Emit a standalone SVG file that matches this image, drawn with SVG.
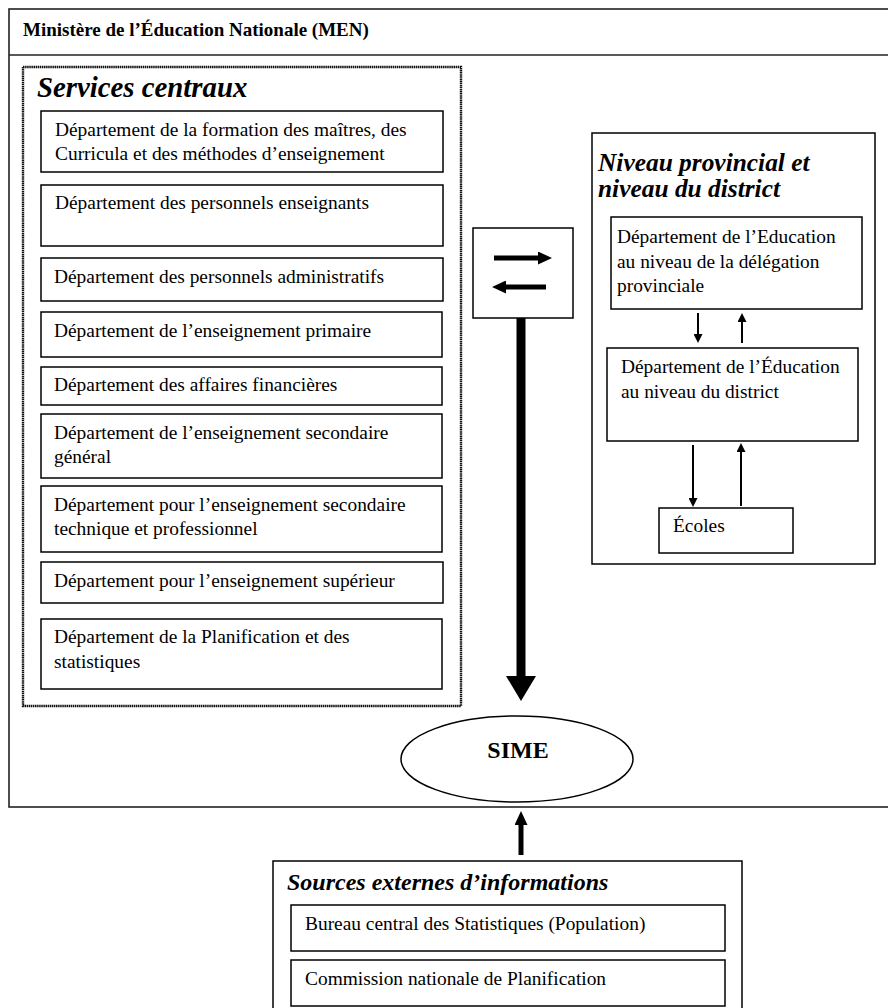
<svg xmlns="http://www.w3.org/2000/svg" width="888" height="1008" viewBox="0 0 888 1008">
<style>
text{font-family:"Liberation Serif","Times New Roman",serif;fill:#000}
.t{font-size:19.4px}
.hb{font-weight:bold}
.bi{font-weight:bold;font-style:italic}
.box{fill:#fff;stroke:#000;stroke-width:1.5}
.frame{fill:none;stroke:#222;stroke-width:1.6}
.dot{fill:none;stroke:#111;stroke-width:2.4;stroke-dasharray:1.5 0.6}
.c{stroke:#000;fill:none}
</style>
<defs>
<marker id="ms" viewBox="0 0 9 9" markerWidth="9" markerHeight="9" refX="0" refY="4.5" orient="auto" markerUnits="userSpaceOnUse"><path d="M0,0 L9,4.5 L0,9 z" fill="#000"/></marker>
<marker id="mm" viewBox="0 0 14 13" markerWidth="14" markerHeight="13" refX="0" refY="6.5" orient="auto" markerUnits="userSpaceOnUse"><path d="M0,0 L14,6.5 L0,13 z" fill="#000"/></marker>
<marker id="mb" viewBox="0 0 25 30" markerWidth="25" markerHeight="30" refX="0" refY="15" orient="auto" markerUnits="userSpaceOnUse"><path d="M0,0 L25,15 L0,30 z" fill="#000"/></marker>
</defs>
<rect width="888" height="1008" fill="#fff"/>

<g id="men">
<rect class="frame" x="9" y="9" width="890" height="798"/>
<line x1="9" y1="55" x2="888" y2="55" stroke="#222" stroke-width="1.6"/>
<text class="hb" x="23" y="36" font-size="19px">Ministère de l’Éducation Nationale (MEN)</text>
</g>

<g id="services-centraux">
<rect class="dot" x="23" y="67" width="438" height="639"/>
<text class="bi" x="37" y="97" font-size="28.8px">Services centraux</text>
</g>
<g id="dep-formation"><rect class="box" x="41" y="111" width="402" height="61"/><text class="t" x="55" y="136">Département de la formation des maîtres, des</text><text class="t" x="55" y="160">Curricula et des méthodes d’enseignement</text></g>
<g id="dep-personnels-ens"><rect class="box" x="41" y="185" width="402" height="61"/><text class="t" x="55" y="209">Département des personnels enseignants</text></g>
<g id="dep-personnels-adm"><rect class="box" x="41" y="258" width="402" height="43"/><text class="t" x="54" y="283">Département des personnels administratifs</text></g>
<g id="dep-primaire"><rect class="box" x="41" y="312" width="401" height="45"/><text class="t" x="54" y="337">Département de l’enseignement primaire</text></g>
<g id="dep-finances"><rect class="box" x="41" y="367" width="401" height="38"/><text class="t" x="54" y="391">Département des affaires financières</text></g>
<g id="dep-secondaire-gen"><rect class="box" x="41" y="414" width="401" height="64"/><text class="t" x="54" y="439">Département de l’enseignement secondaire</text><text class="t" x="54" y="463">général</text></g>
<g id="dep-secondaire-tech"><rect class="box" x="41" y="486" width="401" height="66"/><text class="t" x="54" y="511">Département pour l’enseignement secondaire</text><text class="t" x="54" y="535">technique et professionnel</text></g>
<g id="dep-superieur"><rect class="box" x="41" y="562" width="402" height="41"/><text class="t" x="54" y="587">Département pour l’enseignement supérieur</text></g>
<g id="dep-planification"><rect class="box" x="41" y="619" width="401" height="70"/><text class="t" x="54" y="643">Département de la Planification et des</text><text class="t" x="54" y="668">statistiques</text></g>

<g id="echange"><rect class="box" x="473" y="228" width="100" height="90"/></g>

<g id="niveau-provincial">
<rect class="box" x="592" y="133" width="283" height="431"/>
<text class="bi" x="598" y="171" font-size="25.4px">Niveau provincial et</text>
<text class="bi" x="598" y="197" font-size="25.4px">niveau du district</text>
</g>
<g id="dep-delegation"><rect class="box" x="611" y="217" width="251" height="92"/><text class="t" x="617" y="243">Département de l’Education</text><text class="t" x="617" y="268">au niveau de la délégation</text><text class="t" x="617" y="292">provinciale</text></g>
<g id="dep-district"><rect class="box" x="607" y="348" width="251" height="93"/><text class="t" x="621" y="373">Département de l’Éducation</text><text class="t" x="621" y="398">au niveau du district</text></g>
<g id="ecoles"><rect class="box" x="659" y="508" width="134" height="45"/><text class="t" x="673" y="532">Écoles</text></g>

<g id="sime"><ellipse cx="517" cy="759" rx="116" ry="43" fill="#fff" stroke="#000" stroke-width="1.5"/><text class="hb" x="518" y="758" font-size="24px" text-anchor="middle">SIME</text></g>

<g id="sources-externes">
<rect class="box" x="273" y="861" width="469" height="160"/>
<text class="bi" x="287" y="890" font-size="24px">Sources externes d’informations</text>
</g>
<g id="bureau-stats"><rect class="box" x="291" y="905" width="434" height="46"/><text class="t" x="305" y="930">Bureau central des Statistiques (Population)</text></g>
<g id="commission"><rect class="box" x="291" y="960" width="434" height="46"/><text class="t" x="305" y="985">Commission nationale de Planification</text></g>

<g id="connectors">
<line class="c" x1="494" y1="258" x2="538" y2="258" stroke-width="5" marker-end="url(#mm)"/>
<line class="c" x1="546" y1="287" x2="506" y2="287" stroke-width="5" marker-end="url(#mm)"/>
<line class="c" x1="521" y1="318" x2="521" y2="676" stroke-width="9" marker-end="url(#mb)"/>
<line class="c" x1="521" y1="855" x2="521" y2="825" stroke-width="5" marker-end="url(#mm)"/>
<line class="c" x1="698" y1="313" x2="698" y2="334" stroke-width="2" marker-end="url(#ms)"/>
<line class="c" x1="742" y1="343" x2="742" y2="322" stroke-width="2" marker-end="url(#ms)"/>
<line class="c" x1="693" y1="445" x2="693" y2="498" stroke-width="2" marker-end="url(#ms)"/>
<line class="c" x1="741" y1="506" x2="741" y2="452" stroke-width="2" marker-end="url(#ms)"/>
</g>
</svg>
